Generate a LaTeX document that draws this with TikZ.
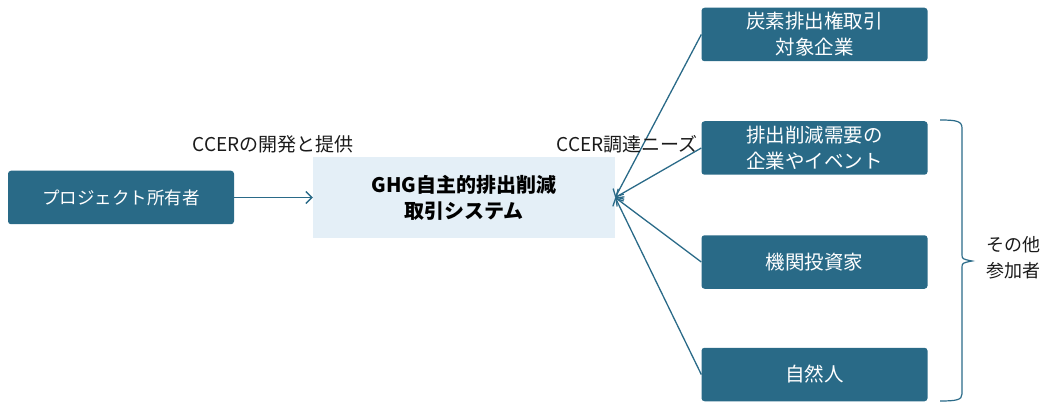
\documentclass[tikz,border=0pt]{standalone}
\usepackage{fontspec}
\setmainfont{Noto Sans CJK JP}
\usetikzlibrary{arrows.meta}
\definecolor{boxblue}{HTML}{296A87}
\definecolor{lightbg}{HTML}{E4EFF7}
\definecolor{linec}{HTML}{2A6A88}
\definecolor{txt}{HTML}{1A1A1A}
\begin{document}
\begin{tikzpicture}[x=1pt,y=-1pt,
  darkbox/.style={fill=boxblue, rounded corners=3pt, text=white, align=center,
    minimum width=226pt, minimum height=53.5pt, inner sep=0pt,
    font=\fontsize{19.5}{26}\selectfont},
  centerbox/.style={fill=lightbg, align=center, minimum width=302pt, minimum height=81pt,
    inner sep=0pt, text=black, font=\fontsize{20}{26}\selectfont\bfseries},
  conn/.style={draw=linec, line width=1.3pt, -{Straight Barb[length=6pt,width=12pt,line width=1.3pt]}},
  lbl/.style={text=txt, font=\fontsize{19}{26}\selectfont, inner sep=0pt}
]
\useasboundingbox (0,0) rectangle (1056,403);
\node[darkbox, font=\fontsize{17.5}{26}\selectfont] (owner) at (121,197.5) {プロジェクト所有者};
\node[centerbox] (sys) at (464,197.5) {GHG自主的排出削減\\取引システム};
\node[darkbox] (b1) at (814.5,34.5) {炭素排出権取引\\対象企業};
\node[darkbox] (b2) at (814.5,148) {排出削減需要の\\企業やイベント};
\node[darkbox] (b3) at (814.5,262) {機関投資家};
\node[darkbox] (b4) at (814.5,374.5) {自然人};
\draw[conn] (owner.east) -- (sys.west);
\draw[conn] (b1.west) -- (sys.east);
\draw[conn] (b2.west) -- (sys.east);
\draw[conn] (b3.west) -- (sys.east);
\draw[conn] (b4.west) -- (sys.east);
\node[lbl] (l1) at (273,144) {CCERの開発と提供};
\node[lbl] (l2) at (627,144) {CCER調達ニーズ};
\coordinate (bt) at (940,120);
\coordinate (bb) at (940,401);
\draw[linec, line width=1.2pt] (bt) .. controls (956,120) and (962,121) .. (962,128)
  -- (962,254) .. controls (962,259) .. (972,261)
  .. controls (962,263) .. (962,268) -- (962,394)
  .. controls (962,400) and (956,401) .. (bb);
\node[lbl, align=center, font=\fontsize{18}{26}\selectfont] (other) at (1013,258) {その他\\参加者};
\end{tikzpicture}
\end{document}
